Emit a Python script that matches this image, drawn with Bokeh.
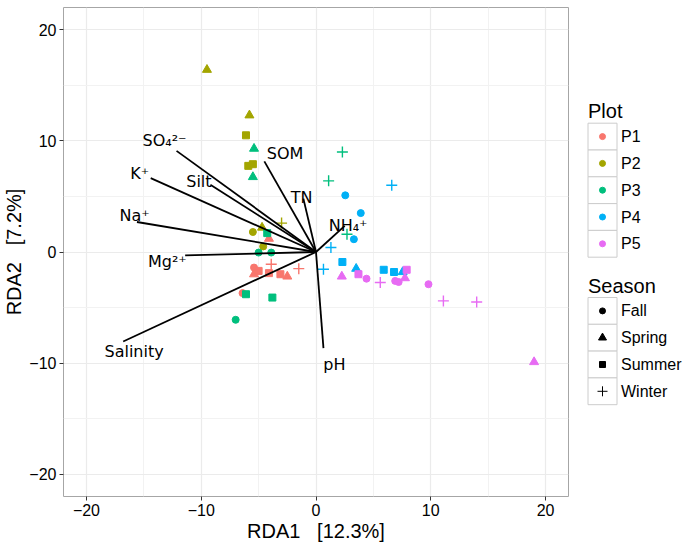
from bokeh.plotting import figure
from bokeh.models import Range1d, FixedTicker, ColumnDataSource, CustomJSTickFormatter
from bokeh.layouts import row
from bokeh.core.properties import value
from bokeh.embed import file_html
from bokeh.resources import INLINE

# ---------------- data ----------------
sites = ["P1", "P2", "P3", "P4", "P5"]
site_colors = ["#F8766D", "#A3A500", "#00BF7D", "#00B0F6", "#E76BF3"]
seasons = ["Fall", "Spring", "Summer", "Winter"]
season_markers = ["circle", "triangle", "square", "cross"]
season_sizes = [7, 9, 7, 11]

sample_site = (["P1"] * 10 + ["P2"] * 9 + ["P3"] * 11 + ["P4"] * 11 + ["P5"] * 12)
sample_season = (
    ["Fall"] * 2 + ["Spring"] * 3 + ["Summer"] * 3 + ["Winter"] * 2 +
    ["Fall"] * 2 + ["Spring"] * 3 + ["Summer"] * 3 + ["Winter"] * 1 +
    ["Fall"] * 3 + ["Spring"] * 2 + ["Summer"] * 3 + ["Winter"] * 3 +
    ["Fall"] * 3 + ["Spring"] * 2 + ["Summer"] * 3 + ["Winter"] * 3 +
    ["Fall"] * 4 + ["Spring"] * 3 + ["Summer"] * 2 + ["Winter"] * 3
)
rda1 = [
    -5.4, -6.4, -4.1, -5.4, -2.5, -5.0, -4.1, -3.1, -3.9, -1.5,
    -5.5, -4.6, -9.5, -5.8, -4.7, -6.1, -5.9, -5.5, -3.0,
    -5.0, -3.9, -7.0, -5.4, -5.5, -4.25, -6.1, -3.8, 2.3, 1.1, 2.7,
    2.55, 3.9, 3.3, 3.5, 7.55, 2.3, 5.9, 6.8, 6.6, 1.3, 0.65,
    4.4, 6.9, 7.2, 9.8, 2.25, 7.75, 19.0, 3.7, 7.9, 5.6, 11.1, 14.0,
]
rda2 = [
    -1.4, -3.7, 1.2, -2.0, -2.2, -1.7, -1.9, -2.0, -1.1, -1.5,
    1.8, 0.5, 16.4, 12.3, 2.2, 10.5, 7.75, 7.9, 2.6,
    -0.05, -0.05, -6.1, 9.3, 6.75, 1.7, -3.8, -4.1, 9.0, 6.4, 1.6,
    5.1, 3.5, 1.15, -1.5, -1.8, -0.9, -1.6, -1.8, 6.0, 0.4, -1.55,
    -2.4, -2.6, -2.7, -2.9, -2.2, -2.35, -9.9, -2.0, -1.6, -2.75, -4.4, -4.5,
]

env_vars = ["SO\u2084\u00b2\u207b", "K\u207a", "Silt", "SOM", "TN", "NH\u2084\u207a",
            "Na\u207a", "Mg\u00b2\u207a", "Salinity", "pH"]
env_rda1 = [-12.15, -14.4, -9.2, -4.5, -1.1, 2.5, -15.6, -11.4, -16.8, 0.65]
env_rda2 = [9.1, 6.65, 6.05, 8.15, 4.8, 2.35, 2.7, -0.3, -8.05, -8.65]
label_rda1 = [-13.2, -15.35, -10.2, -2.7, -1.25, 2.8, -15.8, -12.95, -15.85, 1.6]
label_rda2 = [10.05, 7.1, 6.35, 8.9, 4.9, 2.4, 3.3, -0.85, -8.95, -10.1]

axis_ticks = [-20, -10, 0, 10, 20]
minor_ticks = [-15, -5, 5, 15]

FRAME_H = 489
TOP = 7

# ---------------- main panel ----------------
p = figure(frame_width=505, frame_height=FRAME_H,
           x_range=Range1d(-22, 22), y_range=Range1d(-22, 22),
           output_backend="svg", toolbar_location=None,
           min_border_left=56, min_border_right=1, min_border_top=TOP, min_border_bottom=40)
p.outline_line_color = "#a6a6a6"
p.outline_line_width = 1
p.background_fill_color = "white"
p.border_fill_color = "white"

fmt = CustomJSTickFormatter(code="return tick < 0 ? '\u2212' + Math.abs(tick) : tick.toString();")
for ax in [p.xaxis[0], p.yaxis[0]]:
    ax.ticker = FixedTicker(ticks=axis_ticks, minor_ticks=minor_ticks)
    ax.formatter = fmt
    ax.axis_line_color = None
    ax.major_tick_line_color = "#333333"
    ax.major_tick_out = 4
    ax.major_tick_in = 0
    ax.minor_tick_line_color = None
    ax.major_label_text_font = "Liberation Sans"
    ax.major_label_text_font_size = "16px"
    ax.major_label_text_color = "black"
    ax.major_label_standoff = 3
    ax.axis_label_text_font = "Liberation Sans"
    ax.axis_label_text_font_size = "20px"
    ax.axis_label_text_font_style = "normal"
    ax.axis_label_text_color = "black"
    ax.axis_label_standoff = 1
p.xaxis.axis_label = "RDA1\u00a0\u00a0\u00a0[12.3%]"
p.yaxis.axis_label = "RDA2\u00a0\u00a0\u00a0[7.2%]"
p.grid.grid_line_color = "#ebebeb"
p.grid.grid_line_width = 1.2
p.grid.minor_grid_line_color = "#f2f2f2"
p.grid.minor_grid_line_width = 1

# samples
for s, mk, sz in zip(seasons, season_markers, season_sizes):
    idx = [i for i, v in enumerate(sample_season) if v == s]
    src = ColumnDataSource(dict(
        x=[rda1[i] for i in idx],
        y=[rda2[i] for i in idx],
        c=[site_colors[sites.index(sample_site[i])] for i in idx],
    ))
    p.scatter("x", "y", source=src, marker=mk, size=sz, fill_color="c", line_color="c",
              line_width=1.4 if mk == "cross" else 1)

# environmental vectors
p.segment(x0=[0.0] * len(env_vars), y0=[0.0] * len(env_vars), x1=env_rda1, y1=env_rda2,
          line_color="black", line_width=1.8)
p.text(x=label_rda1, y=label_rda2, text=env_vars, text_align="center", text_baseline="middle",
       text_font=value("DejaVu Sans"), text_font_size="16px", text_color="black")

# ---------------- legend panel ----------------
LW = 117
lg = figure(frame_width=LW, frame_height=FRAME_H, x_range=Range1d(0, LW), y_range=Range1d(FRAME_H, 0),
            output_backend="svg", toolbar_location=None,
            min_border_left=0, min_border_right=0, min_border_top=TOP, min_border_bottom=40,
            x_axis_type=None, y_axis_type=None, outline_line_color=None)
lg.grid.visible = False

box_x0, box_w, box_h = 18.5, 29, 26.8
plot_top, season_top = 115.7, 290

lg.text(x=[box_x0], y=[plot_top - 12], text=["Plot"], text_align="left", text_baseline="middle",
        text_font=value("Liberation Sans"), text_font_size="20px", text_color="black")
pc = [plot_top + box_h * (i + 0.5) for i in range(len(sites))]
lg.rect(x=[box_x0 + box_w / 2] * len(sites), y=pc, width=box_w, height=box_h,
        fill_color="white", line_color="#cccccc", line_width=1)
lg.scatter(x=[box_x0 + box_w / 2] * len(sites), y=pc, size=6, marker="circle",
           fill_color=site_colors, line_color=site_colors)
lg.text(x=[box_x0 + box_w + 4] * len(sites), y=pc, text=sites, text_align="left",
        text_baseline="middle", text_font=value("Liberation Sans"), text_font_size="16px",
        text_color="black")

lg.text(x=[box_x0], y=[season_top - 12], text=["Season"], text_align="left", text_baseline="middle",
        text_font=value("Liberation Sans"), text_font_size="20px", text_color="black")
sc = [season_top + box_h * (i + 0.5) for i in range(len(seasons))]
lg.rect(x=[box_x0 + box_w / 2] * len(seasons), y=sc, width=box_w, height=box_h,
        fill_color="white", line_color="#cccccc", line_width=1)
leg_sizes = [6, 8, 6, 10]
for yy, mk, sz in zip(sc, season_markers, leg_sizes):
    lg.scatter(x=[box_x0 + box_w / 2], y=[yy], size=sz, marker=mk,
               fill_color="black", line_color="black", line_width=1)
lg.text(x=[box_x0 + box_w + 4] * len(seasons), y=sc, text=seasons, text_align="left",
        text_baseline="middle", text_font=value("Liberation Sans"), text_font_size="16px",
        text_color="black")

layout = row(p, lg)
open("out.html", "w").write(file_html(layout, INLINE))
